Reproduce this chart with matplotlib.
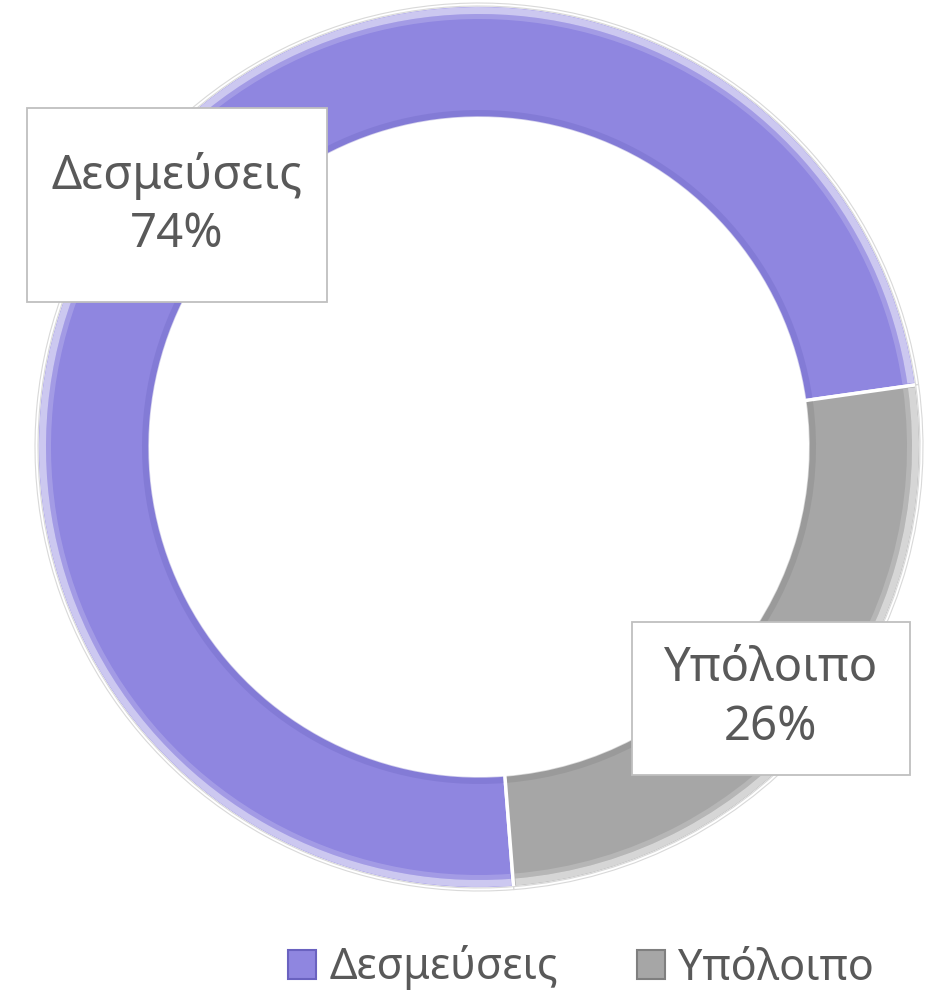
import matplotlib
matplotlib.use("Agg")
import matplotlib.pyplot as plt
from matplotlib.patches import Wedge, Patch, Rectangle

plt.rcParams["font.family"] = ["Noto Sans", "DejaVu Sans"]

# data
categories = ["Δεσμεύσεις", "Υπόλοιπο"]
values = [74, 26]
pct_labels = ["74%", "26%"]

colors = ["#8F86E0", "#A6A6A6"]
dark = ["#6A62C0", "#7F7F7F"]
text_color = "#595959"

W, H = 930, 994
fig = plt.figure(figsize=(W / 100, H / 100), dpi=100)
ax = fig.add_axes([0, 0, 1, 1])

cx, cy = 479, H - 447
r_out, ring = 442, 113

wedges, _ = ax.pie(
    values,
    colors=colors,
    startangle=274.5,
    counterclock=False,
    radius=r_out,
    center=(cx, cy),
    frame=True,
    wedgeprops=dict(width=ring, edgecolor="white", linewidth=2.5),
)
ax.set_xlim(0, W)
ax.set_ylim(0, H)
ax.set_aspect("equal")
ax.axis("off")

# bevel: light rim on the outside, darker rim inside
for w, shade in zip(wedges, dark):
    t1, t2 = w.theta1, w.theta2
    ax.add_patch(Wedge((cx, cy), r_out - 2, t1 + 0.3, t2 - 0.3, width=7,
                       facecolor="white", alpha=0.55, lw=0))
    ax.add_patch(Wedge((cx, cy), r_out - 9, t1 + 0.3, t2 - 0.3, width=5,
                       facecolor="white", alpha=0.18, lw=0))
    ax.add_patch(Wedge((cx, cy), r_out - ring + 8, t1 + 0.3, t2 - 0.3, width=7,
                       facecolor=shade, alpha=0.3, lw=0))
    ax.add_patch(Wedge((cx, cy), r_out + 2, t1, t2, width=3,
                       facecolor="none", edgecolor="#D9D9D9", lw=0.8))

# data labels (boxes: centre and size in pixels)
label_boxes = [((177, H - 205), (300, 194)), ((771, H - 698), (278, 153))]
for cat, pct, ((x, y), (bw, bh)) in zip(categories, pct_labels, label_boxes):
    ax.add_patch(Rectangle((x - bw / 2, y - bh / 2), bw, bh, facecolor="white",
                           edgecolor="#BFBFBF", linewidth=1.3, zorder=3))
    ax.text(x, y, f"{cat}\n{pct}", ha="center", va="center", fontsize=34,
            color=text_color, linespacing=1.32, zorder=4)

# legend
handles = [Patch(facecolor=c, edgecolor=d, linewidth=1.5) for c, d in zip(colors, dark)]
fig.legend(handles, categories, loc="center", bbox_to_anchor=(0.625, 1 - 968 / H),
           ncol=2, frameon=False, fontsize=31, labelcolor=text_color,
           handlelength=0.65, handleheight=0.65, handletextpad=0.3, columnspacing=1.85)

fig.savefig("out.png", dpi=100, facecolor="white")
